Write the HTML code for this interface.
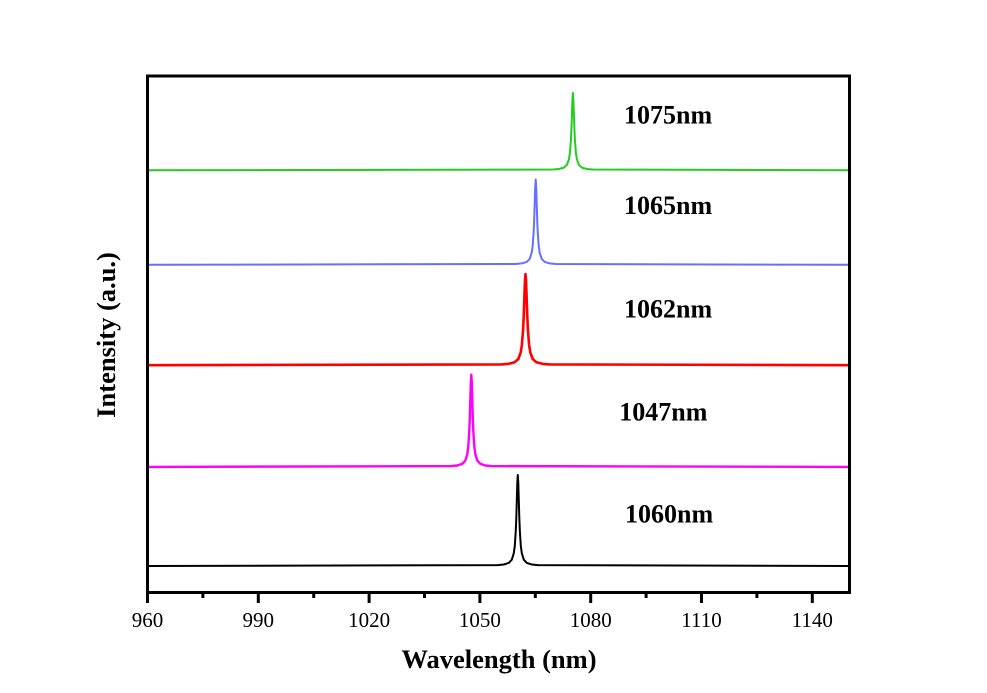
<!DOCTYPE html>
<html>
<head>
<meta charset="utf-8">
<style>
  html, body { margin: 0; padding: 0; background: #ffffff; }
  body { width: 987px; height: 693px; overflow: hidden; }
  svg { display: block; }
  .tick { font-family: "Liberation Serif", "Times New Roman", serif; font-size: 21px; fill: #000; }
  .title { font-family: "Liberation Serif", "Times New Roman", serif; font-size: 26.5px; font-weight: bold; fill: #000; }
  .ann { font-family: "Liberation Serif", "Times New Roman", serif; font-size: 26px; font-weight: bold; fill: #000; }
</style>
</head>
<body>
<svg width="987" height="693" viewBox="0 0 987 693" xmlns="http://www.w3.org/2000/svg">
  <rect x="0" y="0" width="987" height="693" fill="#ffffff"/>

  <!-- Series -->
  <g fill="none" stroke-linejoin="round" stroke-linecap="butt">
    <!-- Green 1075 -->
    <path stroke="#22cc22" stroke-width="2" d="M148,170.3 L552.9,169.5 L558.9,169 L563.9,167.6 L566.9,164.9 L568.9,159.4 L569.9,153 L570.9,140 L571.4,129 L571.9,114.6 L572.4,99.9 L572.9,93 L573.4,99.9 L573.9,114.6 L574.4,129 L574.9,140 L575.9,153 L576.9,159.4 L578.9,164.9 L581.9,167.6 L586.9,169 L592.9,169.5 L849,170.3"/>
    <!-- Blue 1065 -->
    <path stroke="#6670ff" stroke-width="2" d="M148,264.8 L515.7,264 L521.7,263.4 L526.7,261.9 L529.7,258.9 L531.7,252.8 L532.7,245.7 L533.7,231.3 L534.2,219.3 L534.7,203.4 L535.2,187.1 L535.7,179.5 L536.2,187.1 L536.7,203.4 L537.2,219.3 L537.7,231.3 L538.7,245.7 L539.7,252.8 L541.7,258.9 L544.7,261.9 L549.7,263.4 L555.7,264 L849,264.8"/>
    <!-- Red 1062 -->
    <path stroke="#ff0000" stroke-width="2.6" d="M148,365.2 L501.5,364.4 L508.7,363.8 L514.7,362.2 L518.3,359 L520.7,352.4 L521.9,344.9 L523.1,329.5 L523.7,316.6 L524.3,299.6 L524.9,282.1 L525.5,274 L526.1,282.1 L526.7,299.6 L527.3,316.6 L527.9,329.5 L529.1,344.9 L530.3,352.4 L532.7,359 L536.3,362.2 L542.3,363.8 L549.5,364.4 L849,365.2"/>
    <!-- Magenta 1047 -->
    <path stroke="#ff00ff" stroke-width="2.4" d="M148,466.9 L451.3,466.1 L457.3,465.5 L462.3,463.8 L465.3,460.6 L467.3,454 L468.3,446.4 L469.3,430.8 L469.8,417.8 L470.3,400.6 L470.8,382.9 L471.3,374.7 L471.8,382.9 L472.3,400.6 L472.8,417.8 L473.3,430.8 L474.3,446.4 L475.3,454 L477.3,460.6 L480.3,463.8 L485.3,465.5 L491.3,466.1 L849,466.9"/>
    <!-- Black 1060 -->
    <path stroke="#000000" stroke-width="2" d="M148,566 L497.8,565.1 L503.8,564.5 L508.8,562.9 L511.8,559.7 L513.8,553.2 L514.8,545.7 L515.8,530.3 L516.3,517.4 L516.8,500.5 L517.3,483.1 L517.8,475 L518.3,483.1 L518.8,500.5 L519.3,517.4 L519.8,530.3 L520.8,545.7 L521.8,553.2 L523.8,559.7 L526.8,562.9 L531.8,564.5 L537.8,565.1 L849,566"/>
  </g>

  <!-- Frame -->
  <rect x="147.5" y="76" width="702" height="516.5" fill="none" stroke="#000" stroke-width="3"/>

  <!-- Major ticks -->
  <g stroke="#000" stroke-width="3">
    <line x1="147.5" y1="592" x2="147.5" y2="603"/>
    <line x1="258.3" y1="592" x2="258.3" y2="603"/>
    <line x1="369.1" y1="592" x2="369.1" y2="603"/>
    <line x1="479.9" y1="592" x2="479.9" y2="603"/>
    <line x1="590.7" y1="592" x2="590.7" y2="603"/>
    <line x1="701.5" y1="592" x2="701.5" y2="603"/>
    <line x1="812.3" y1="592" x2="812.3" y2="603"/>
  </g>
  <!-- Minor ticks -->
  <g stroke="#000" stroke-width="3">
    <line x1="202.9" y1="592" x2="202.9" y2="598"/>
    <line x1="313.7" y1="592" x2="313.7" y2="598"/>
    <line x1="424.5" y1="592" x2="424.5" y2="598"/>
    <line x1="535.3" y1="592" x2="535.3" y2="598"/>
    <line x1="646.1" y1="592" x2="646.1" y2="598"/>
    <line x1="756.9" y1="592" x2="756.9" y2="598"/>
  </g>

  <!-- Tick labels -->
  <g class="tick" text-anchor="middle">
    <text x="147.5" y="627">960</text>
    <text x="258.3" y="627">990</text>
    <text x="369.1" y="627">1020</text>
    <text x="479.9" y="627">1050</text>
    <text x="590.7" y="627">1080</text>
    <text x="701.5" y="627">1110</text>
    <text x="812.3" y="627">1140</text>
  </g>

  <!-- Axis titles -->
  <text class="title" x="499" y="668" text-anchor="middle">Wavelength (nm)</text>
  <text class="title" x="0" y="0" text-anchor="middle" transform="translate(115,335) rotate(-90)">Intensity (a.u.)</text>

  <!-- Annotations -->
  <g class="ann">
    <text x="624" y="123.3">1075nm</text>
    <text x="624" y="214">1065nm</text>
    <text x="624" y="317.3">1062nm</text>
    <text x="619.3" y="420.7">1047nm</text>
    <text x="625" y="522.7">1060nm</text>
  </g>
</svg>
</body>
</html>
